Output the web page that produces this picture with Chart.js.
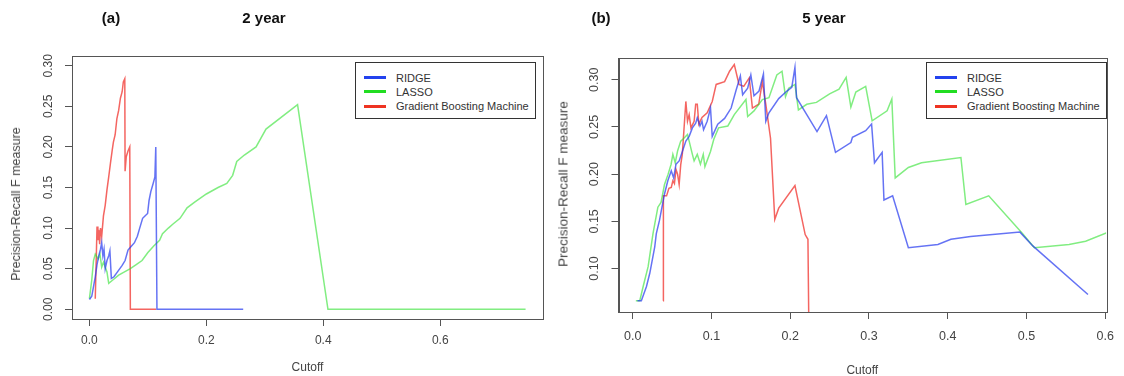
<!DOCTYPE html>
<html>
<head>
<meta charset="utf-8">
<script src="https://cdn.jsdelivr.net/npm/chart.js@4.4.1/dist/chart.umd.min.js"></script>
<style>
  body { margin: 0; background: #fff; font-family: "Liberation Sans", Arial, sans-serif; }
  #wrap { position: relative; width: 1124px; height: 376px; overflow: hidden; }
  canvas { position: absolute; top: 0; }
  .ttl { position: absolute; font-weight: bold; font-size: 15px; color: #111; transform: translate(-50%, -50%); white-space: nowrap; }
  .ylab { position: absolute; color: #444; white-space: nowrap; transform: translate(-50%, -50%) rotate(-90deg); }
  .legend { position: absolute; border: 1.5px solid #333; background: #fff; box-sizing: border-box; }
  .legend .sw { position: absolute; height: 3px; width: 22px; }
  .legend .lb { position: absolute; font-size: 11px; color: #333; white-space: nowrap; transform: translateY(-50%); }
</style>
</head>
<body>
<div id="wrap">
  <canvas id="chart2" width="560" height="376" style="left:0px"></canvas>
  <canvas id="chart5" width="576" height="376" style="left:548px"></canvas>
  <div class="ttl" style="left:111px; top:17px">(a)</div>
  <div class="ttl" style="left:264px; top:17px">2 year</div>
  <div class="ttl" style="left:601px; top:17px">(b)</div>
  <div class="ttl" style="left:824px; top:17px">5 year</div>
  <div class="ylab" style="left:16px; top:204px; font-size:12.5px">Precision-Recall F measure</div>
  <div class="ylab" style="left:563px; top:184px; font-size:13.5px">Precision-Recall F measure</div>
  <div class="legend" id="leg2" style="left:355px; top:62px; width:181px; height:57px"></div>
  <div class="legend" id="leg5" style="left:926px; top:62px; width:181px; height:57px"></div>
</div>
<script>
const seriesNames = ['RIDGE', 'LASSO', 'Gradient Boosting Machine'];
const lineColors = ['rgba(35, 55, 240, 0.7)', 'rgba(45, 225, 45, 0.6)', 'rgba(240, 35, 30, 0.7)'];
const legendColors = ['#2342ee', '#22dd22', '#ee3322'];

// (a) 2 year
const ridge2x = [0.000, 0.004, 0.007, 0.010, 0.013, 0.016, 0.019, 0.021, 0.023, 0.025, 0.027, 0.030, 0.033, 0.035, 0.0375, 0.042, 0.048, 0.056, 0.061, 0.066, 0.072, 0.077, 0.082, 0.086, 0.091, 0.095, 0.0995, 0.102, 0.105, 0.109, 0.112, 0.1135, 0.1155, 0.263];
const ridge2y = [0.012, 0.016, 0.028, 0.040, 0.055, 0.066, 0.074, 0.082, 0.066, 0.074, 0.050, 0.060, 0.066, 0.072, 0.038, 0.040, 0.046, 0.054, 0.060, 0.073, 0.078, 0.082, 0.090, 0.100, 0.112, 0.115, 0.118, 0.134, 0.145, 0.155, 0.163, 0.200, 0.000, 0.000];
const lasso2x = [0.000, 0.004, 0.007, 0.010, 0.015, 0.018, 0.021, 0.024, 0.030, 0.033, 0.040, 0.050, 0.060, 0.070, 0.080, 0.090, 0.100, 0.110, 0.120, 0.125, 0.135, 0.143, 0.155, 0.167, 0.180, 0.200, 0.220, 0.235, 0.245, 0.252, 0.265, 0.285, 0.302, 0.356, 0.408, 0.746];
const lasso2y = [0.013, 0.036, 0.060, 0.068, 0.062, 0.068, 0.052, 0.058, 0.046, 0.032, 0.036, 0.042, 0.046, 0.050, 0.055, 0.060, 0.070, 0.078, 0.085, 0.093, 0.100, 0.105, 0.112, 0.125, 0.132, 0.142, 0.150, 0.155, 0.165, 0.182, 0.190, 0.200, 0.222, 0.252, 0.000, 0.000];
const gbm2x = [0.010, 0.013, 0.0145, 0.016, 0.0175, 0.019, 0.021, 0.024, 0.027, 0.030, 0.033, 0.036, 0.039, 0.041, 0.044, 0.047, 0.050, 0.053, 0.056, 0.058, 0.0605, 0.061, 0.063, 0.066, 0.069, 0.070, 0.114];
const gbm2y = [0.013, 0.102, 0.085, 0.098, 0.080, 0.100, 0.090, 0.115, 0.128, 0.147, 0.163, 0.180, 0.196, 0.206, 0.215, 0.235, 0.245, 0.260, 0.268, 0.280, 0.284, 0.170, 0.188, 0.195, 0.200, 0.000, 0.000];
const xTicks2 = [0, 0.2, 0.4, 0.6];
const yTicks2 = [0, 0.05, 0.10, 0.15, 0.20, 0.25, 0.30];

// (b) 5 year
const ridge5x = [0.006, 0.011, 0.0175, 0.0217, 0.028, 0.030, 0.034, 0.0404, 0.0446, 0.049, 0.052, 0.055, 0.059, 0.0633, 0.0675, 0.0717, 0.0758, 0.080, 0.082, 0.0854, 0.088, 0.090, 0.0946, 0.0988, 0.101, 0.108, 0.1167, 0.125, 0.131, 0.1367, 0.1396, 0.146, 0.150, 0.154, 0.1604, 0.166, 0.169, 0.173, 0.1854, 0.1958, 0.202, 0.206, 0.208, 0.221, 0.234, 0.246, 0.2575, 0.277, 0.279, 0.2958, 0.3033, 0.307, 0.3167, 0.319, 0.330, 0.350, 0.3875, 0.404, 0.429, 0.4917, 0.508, 0.578];
const ridge5y = [0.066, 0.066, 0.081, 0.095, 0.123, 0.137, 0.151, 0.179, 0.193, 0.2035, 0.196, 0.2105, 0.214, 0.2245, 0.235, 0.240, 0.249, 0.254, 0.2596, 0.251, 0.256, 0.247, 0.256, 0.270, 0.240, 0.253, 0.259, 0.270, 0.288, 0.304, 0.284, 0.291, 0.305, 0.283, 0.288, 0.306, 0.256, 0.265, 0.280, 0.288, 0.292, 0.313, 0.281, 0.263, 0.245, 0.262, 0.223, 0.2335, 0.239, 0.246, 0.253, 0.212, 0.223, 0.1726, 0.177, 0.122, 0.1255, 0.131, 0.134, 0.1386, 0.124, 0.0725];
const lasso5x = [0.004, 0.009, 0.0133, 0.0196, 0.0258, 0.028, 0.032, 0.036, 0.0404, 0.045, 0.0488, 0.051, 0.054, 0.057, 0.061, 0.065, 0.0696, 0.0717, 0.0758, 0.078, 0.082, 0.086, 0.0896, 0.0917, 0.0988, 0.103, 0.109, 0.1208, 0.129, 0.1438, 0.146, 0.154, 0.1646, 0.173, 0.183, 0.1896, 0.194, 0.198, 0.206, 0.2104, 0.221, 0.2333, 0.250, 0.262, 0.271, 0.277, 0.2833, 0.2958, 0.304, 0.323, 0.329, 0.3333, 0.350, 0.3667, 0.4167, 0.423, 0.452, 0.494, 0.510, 0.554, 0.575, 0.602];
const lasso5y = [0.066, 0.066, 0.081, 0.102, 0.137, 0.147, 0.165, 0.170, 0.189, 0.200, 0.2105, 0.221, 0.212, 0.2245, 0.235, 0.238, 0.242, 0.235, 0.221, 0.214, 0.221, 0.2105, 0.221, 0.208, 0.224, 0.237, 0.249, 0.251, 0.263, 0.279, 0.261, 0.267, 0.279, 0.281, 0.305, 0.309, 0.282, 0.291, 0.295, 0.268, 0.274, 0.276, 0.285, 0.290, 0.3025, 0.271, 0.287, 0.293, 0.2565, 0.2671, 0.2795, 0.196, 0.207, 0.212, 0.2176, 0.168, 0.177, 0.138, 0.122, 0.1255, 0.129, 0.138];
const gbm5x = [0.0385, 0.039, 0.043, 0.046, 0.049, 0.051, 0.053, 0.055, 0.057, 0.059, 0.061, 0.063, 0.065, 0.0675, 0.0696, 0.0717, 0.074, 0.078, 0.080, 0.082, 0.084, 0.088, 0.0946, 0.101, 0.106, 0.1167, 0.123, 0.129, 0.135, 0.141, 0.148, 0.152, 0.160, 0.1646, 0.169, 0.175, 0.1804, 0.1854, 0.206, 0.219, 0.2225, 0.2235];
const gbm5y = [0.066, 0.177, 0.177, 0.185, 0.186, 0.193, 0.190, 0.205, 0.200, 0.189, 0.210, 0.221, 0.246, 0.277, 0.256, 0.263, 0.249, 0.256, 0.274, 0.274, 0.253, 0.260, 0.265, 0.277, 0.295, 0.298, 0.309, 0.316, 0.295, 0.293, 0.302, 0.270, 0.274, 0.298, 0.274, 0.238, 0.152, 0.164, 0.188, 0.136, 0.131, 0.050];
const xTicks5 = [0, 0.1, 0.2, 0.3, 0.4, 0.5, 0.6];
const yTicks5 = [0.10, 0.15, 0.20, 0.25, 0.30];

const fontFam = '"Liberation Sans", Arial, sans-serif';

function pts(xs, ys) {
  return xs.map((x, i) => ({ x: x, y: ys[i] }));
}

// R style box around the plot region
const boxPlugin = {
  id: 'box',
  afterDraw(chart) {
    const a = chart.chartArea;
    const ctx = chart.ctx;
    ctx.save();
    ctx.strokeStyle = '#555';
    ctx.lineWidth = 1;
    ctx.strokeRect(Math.round(a.left) + 0.5, Math.round(a.top) + 0.5, Math.round(a.right - a.left), Math.round(a.bottom - a.top));
    ctx.restore();
  }
};

function makeChart(id, lines, p) {
  return new Chart(document.getElementById(id), {
    type: 'line',
    data: {
      datasets: lines.map((l, i) => ({
        label: seriesNames[i],
        data: pts(l[0], l[1]),
        borderColor: lineColors[i],
        borderWidth: 1.5,
        pointRadius: 0,
        tension: 0,
        fill: false
      }))
    },
    options: {
      responsive: false,
      animation: false,
      events: [],
      layout: { padding: p.pad },
      plugins: { legend: { display: false }, tooltip: { enabled: false } },
      scales: {
        x: {
          type: 'linear',
          min: p.xMin,
          max: p.xMax,
          afterBuildTicks: s => { s.ticks = p.xTicks.map(v => ({ value: v })); },
          afterFit: s => { s.height = p.xH; },
          ticks: {
            autoSkip: false, maxRotation: 0, padding: p.xPad, color: '#444',
            font: { family: fontFam, size: p.tickSize },
            callback: v => v.toFixed(1)
          },
          grid: { drawOnChartArea: false, tickLength: 7, color: '#555' },
          border: { display: true, color: '#555' },
          title: { display: true, text: 'Cutoff', color: '#444', padding: { top: 0, bottom: p.xTitlePad }, font: { family: fontFam, size: 12 } }
        },
        y: {
          type: 'linear',
          min: p.yMin,
          max: p.yMax,
          afterBuildTicks: s => { s.ticks = p.yTicks.map(v => ({ value: v })); },
          afterFit: s => { s.width = p.yW; },
          ticks: {
            autoSkip: false, minRotation: 90, maxRotation: 90, crossAlign: 'center', padding: 5, color: '#444',
            font: { family: fontFam, size: p.tickSize },
            callback: v => v.toFixed(2)
          },
          grid: { drawOnChartArea: false, tickLength: 7, color: '#555' },
          border: { display: true, color: '#555' }
        }
      }
    },
    plugins: [boxPlugin]
  });
}

makeChart('chart2', [[ridge2x, ridge2y], [lasso2x, lasso2y], [gbm2x, gbm2y]], {
  pad: { left: 0, top: 56, right: 17, bottom: 0 },
  xMin: -0.0298, xMax: 0.7758, yMin: -0.012, yMax: 0.312,
  xTicks: xTicks2, yTicks: yTicks2, xH: 57, yW: 72, xPad: 7, tickSize: 12, xTitlePad: 1
});

makeChart('chart5', [[ridge5x, ridge5y], [lasso5x, lasso5y], [gbm5x, gbm5y]], {
  pad: { left: 0, top: 58, right: 10, bottom: 0 },
  xMin: -0.018, xMax: 0.601, yMin: 0.054, yMax: 0.323,
  xTicks: xTicks5, yTicks: yTicks5, xH: 64, yW: 70.5, xPad: 10, tickSize: 12.5, xTitlePad: -2
});

function buildLegend(id) {
  const box = document.getElementById(id);
  seriesNames.forEach((name, i) => {
    const top = 14.5 + i * 14.3;
    const sw = document.createElement('div');
    sw.className = 'sw';
    sw.style.left = '8px';
    sw.style.top = (top - 1.5) + 'px';
    sw.style.background = legendColors[i];
    box.appendChild(sw);
    const lb = document.createElement('div');
    lb.className = 'lb';
    lb.style.left = '40px';
    lb.style.top = top + 'px';
    lb.textContent = name;
    box.appendChild(lb);
  });
}
buildLegend('leg2');
buildLegend('leg5');
</script>
</body>
</html>
